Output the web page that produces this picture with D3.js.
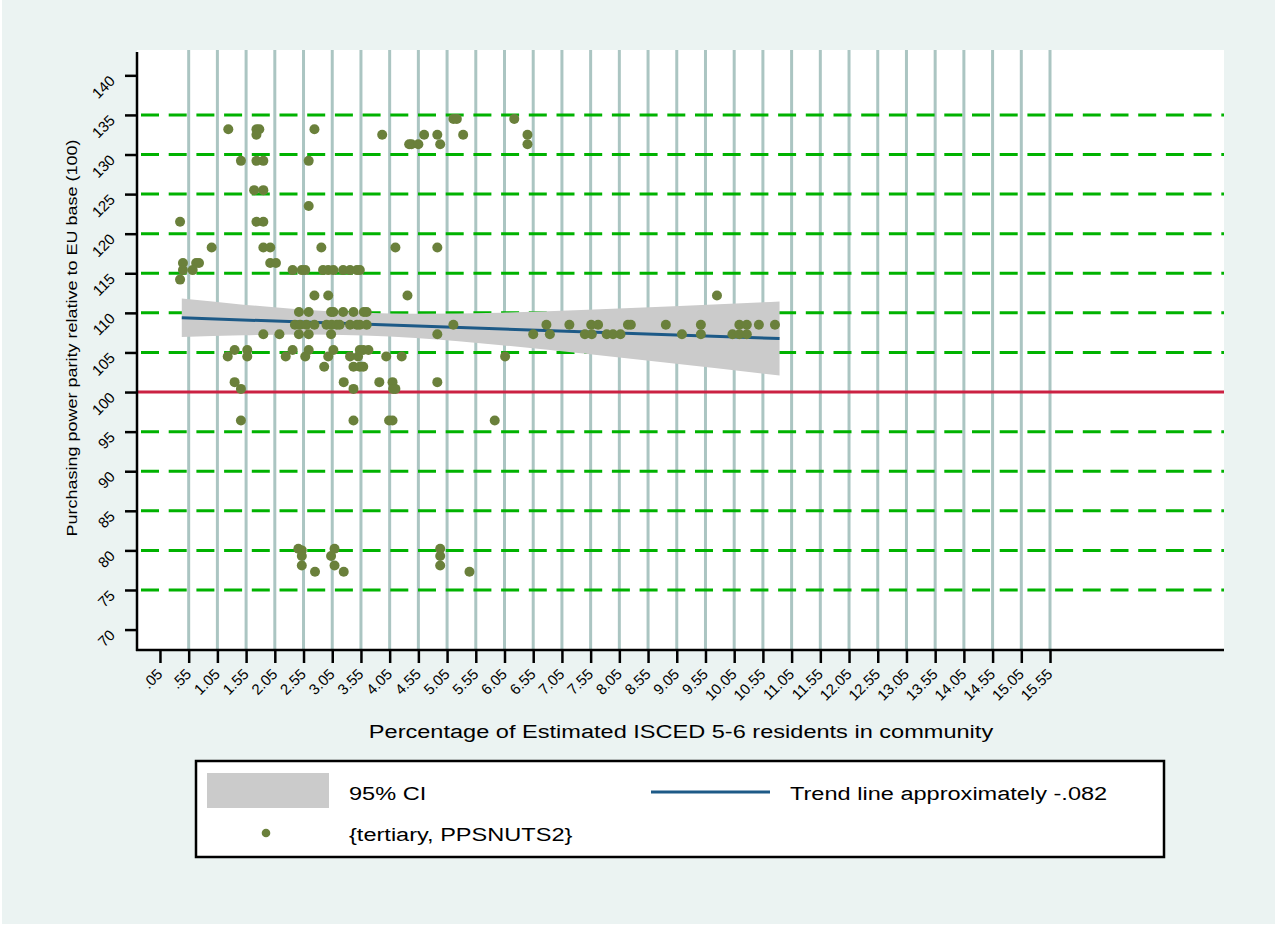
<!DOCTYPE html>
<html>
<head>
<meta charset="utf-8">
<script src="https://cdn.jsdelivr.net/npm/d3@7"></script>
<style>
  body { margin: 0; background: #ffffff; }
  svg { display: block; }
  text { font-family: "Liberation Sans", Arial, Helvetica, sans-serif; fill: #000; }
</style>
</head>
<body>
<svg id="chart" width="1277" height="926"></svg>
<script>
// ---- axis ticks ----
const xTickLabels = [".05", ".55", "1.05", "1.55", "2.05", "2.55", "3.05", "3.55", "4.05", "4.55",
  "5.05", "5.55", "6.05", "6.55", "7.05", "7.55", "8.05", "8.55", "9.05", "9.55", "10.05", "10.55",
  "11.05", "11.55", "12.05", "12.55", "13.05", "13.55", "14.05", "14.55", "15.05", "15.55"];
const yTickValues = [70, 75, 80, 85, 90, 95, 100, 105, 110, 115, 120, 125, 130, 135, 140];
const yGridValues = [75, 80, 85, 90, 95, 105, 110, 115, 120, 125, 130, 135];
const euBase = 100;

// ---- observations: PPS level (y) and the tertiary shares (x) recorded at that level ----
const ppsLevels = [134.5, 133.2, 132.5, 131.3, 129.2, 125.5, 123.5, 121.5, 118.25, 116.3, 115.4,
  114.2, 112.2, 110.1, 108.5, 107.3, 105.3, 104.5, 103.2, 101.25, 100.4, 96.4, 80.2, 80.0, 79.3, 78.1, 77.3];
const tertiaryAtLevel = [
  [5.16, 5.22, 6.22],
  [1.24, 1.73, 1.78, 2.74],
  [1.73, 3.92, 4.65, 4.88, 5.33, 6.45],
  [4.39, 4.43, 4.55, 4.93, 6.45],
  [1.46, 1.73, 1.85, 2.64],
  [1.69, 1.85],
  [2.64],
  [0.40, 1.73, 1.85],
  [0.95, 1.85, 1.97, 2.86, 4.15, 4.88],
  [0.45, 0.68, 0.73, 1.97, 2.07],
  [0.45, 0.62, 2.36, 2.52, 2.58, 2.89, 2.98, 3.07, 3.24, 3.36, 3.48, 3.53],
  [0.40],
  [2.74, 2.98, 4.36, 9.75],
  [2.47, 2.64, 3.03, 3.07, 3.24, 3.42, 3.60, 3.65],
  [2.40, 2.49, 2.60, 2.74, 2.95, 3.04, 3.13, 3.18, 3.36, 3.48, 3.53, 3.65, 5.16, 6.78, 7.18, 7.56,
   7.68, 8.20, 8.25, 8.86, 9.47, 10.14, 10.27, 10.48, 10.76],
  [1.85, 2.13, 2.47, 2.64, 3.03, 4.88, 6.55, 6.84, 7.45, 7.57, 7.83, 7.94, 8.07, 9.14, 9.47, 10.02,
   10.14, 10.27],
  [1.35, 1.57, 2.36, 2.64, 3.07, 3.53, 3.59, 3.68],
  [1.23, 1.57, 2.24, 2.58, 2.98, 3.36, 3.50, 3.99, 4.26, 6.06],
  [2.91, 3.42, 3.53, 3.59],
  [1.35, 3.25, 3.87, 4.10, 4.88],
  [1.46, 3.42, 4.11, 4.15],
  [1.46, 3.42, 4.04, 4.10, 5.88],
  [2.46, 3.09, 4.93],
  [2.52],
  [2.52, 3.03, 4.93],
  [2.52, 3.09, 4.93],
  [2.75, 3.25, 5.44]
];

// ---- linear fit and its 95% confidence band ----
const trendX = [0.43, 10.84];
const trendY = [109.37, 106.75];
const ciX    = [0.43, 1.5, 2.5, 3.6, 4.5, 6.0, 7.5, 9.0, 10.84];
const ciLow  = [106.94, 107.17, 107.27, 107.14, 106.81, 105.91, 104.80, 103.60, 102.08];
const ciHigh = [111.80, 111.04, 110.44, 110.01, 109.89, 110.03, 110.38, 110.82, 111.43];

// ---- legend and titles ----
const legendLabels = ["95% CI", "Trend line approximately -.082", "{tertiary, PPSNUTS2}"];
const axisTitles = {
  x: "Percentage of Estimated ISCED 5-6 residents in community",
  y: "Purchasing power parity relative to EU base (100)"
};

const colors = {
  page: "#ebf3f2", plot: "#ffffff", vgrid: "#abc5c2", hgrid: "#00b200",
  ref: "#cb2142", ci: "#cbcbcb", trend: "#1d5a87", dot: "#6a803b"
};

const plot = { left: 137, right: 1224, top: 50, bottom: 650 };
const wide = 1.24; // horizontal glyph stretch of the horizontal captions

const svg = d3.select("#chart");

svg.append("rect").attr("x", 2).attr("y", 0).attr("width", 1273).attr("height", 924)
  .attr("fill", colors.page);
svg.append("rect").attr("x", plot.left).attr("y", plot.top)
  .attr("width", plot.right - plot.left).attr("height", plot.bottom - plot.top)
  .attr("fill", colors.plot);

const x = d3.scaleLinear().domain([-0.35, 18.58]).range([plot.left, plot.right]);
const y = d3.scaleLinear().domain([67.42, 143.2]).range([plot.bottom, plot.top]);

const xTickValues = xTickLabels.map(s => +s);

// vertical grid lines (none at the first tick)
svg.append("g").selectAll("line").data(xTickValues.slice(1)).join("line")
  .attr("x1", d => x(d)).attr("x2", d => x(d))
  .attr("y1", plot.top).attr("y2", plot.bottom)
  .attr("stroke", colors.vgrid).attr("stroke-width", 3);

// dashed horizontal grid lines
svg.append("g").selectAll("line").data(yGridValues).join("line")
  .attr("x1", plot.left + 4).attr("x2", plot.right)
  .attr("y1", d => y(d)).attr("y2", d => y(d))
  .attr("stroke", colors.hgrid).attr("stroke-width", 3)
  .attr("stroke-dasharray", "18,9.7");

// EU base reference line
svg.append("line")
  .attr("x1", plot.left).attr("x2", plot.right)
  .attr("y1", y(euBase)).attr("y2", y(euBase))
  .attr("stroke", colors.ref).attr("stroke-width", 3);

// confidence band
const band = ciX.map((v, i) => ({ x: v, lo: ciLow[i], hi: ciHigh[i] }));
svg.append("path").datum(band)
  .attr("d", d3.area().x(d => x(d.x)).y0(d => y(d.lo)).y1(d => y(d.hi)).curve(d3.curveMonotoneX))
  .attr("fill", colors.ci);

// fitted line
svg.append("path").datum(trendX.map((v, i) => [v, trendY[i]]))
  .attr("d", d3.line().x(d => x(d[0])).y(d => y(d[1])))
  .attr("fill", "none").attr("stroke", colors.trend).attr("stroke-width", 3);

// scatter points
const points = [];
ppsLevels.forEach((lvl, i) => tertiaryAtLevel[i].forEach(t => points.push({ t, p: lvl })));
svg.append("g").selectAll("circle").data(points).join("circle")
  .attr("cx", d => x(d.t)).attr("cy", d => y(d.p)).attr("r", 5)
  .attr("fill", colors.dot);

// x axis
const xAxis = svg.append("g").attr("transform", `translate(0,${plot.bottom})`)
  .call(d3.axisBottom(x).tickValues(xTickValues).tickFormat((d, i) => xTickLabels[i])
    .tickSize(13).tickSizeOuter(0));
xAxis.select(".domain").remove();
xAxis.append("line").attr("x1", plot.left - 1).attr("x2", plot.right)
  .attr("stroke", "#000").attr("stroke-width", 2.5);
xAxis.selectAll(".tick line").attr("stroke", "#000").attr("stroke-width", 2.5);
xAxis.selectAll(".tick text")
  .attr("x", 0).attr("y", 0).attr("dy", 0)
  .attr("text-anchor", "end")
  .attr("transform", "translate(3,25) rotate(-45)")
  .style("font-size", "15px")
  .style("font-family", "'Liberation Sans', Arial, sans-serif");

// y axis
const yAxis = svg.append("g").attr("transform", `translate(${plot.left},0)`)
  .call(d3.axisLeft(y).tickValues(yTickValues).tickSize(12).tickSizeOuter(0));
yAxis.select(".domain").remove();
yAxis.append("line").attr("y1", plot.top + 2).attr("y2", plot.bottom + 1)
  .attr("stroke", "#000").attr("stroke-width", 2.5);
yAxis.selectAll(".tick line").attr("stroke", "#000").attr("stroke-width", 2.5);
yAxis.selectAll(".tick text")
  .attr("x", 0).attr("y", 0).attr("dy", 0)
  .attr("text-anchor", "end")
  .attr("transform", "translate(-21,6) rotate(-45)")
  .style("font-size", "15px")
  .style("font-family", "'Liberation Sans', Arial, sans-serif");

// horizontal caption helper: text stretched sideways like the rest of the figure
function caption(g, px, py, str, size, anchor) {
  return g.append("text")
    .attr("transform", `translate(${px},${py}) scale(${wide},1)`)
    .attr("text-anchor", anchor || "start")
    .style("font-size", size + "px")
    .text(str);
}

// axis titles
caption(svg, 681, 738, axisTitles.x, 19, "middle");
svg.append("text").attr("transform", "translate(77,338) rotate(-90)").attr("text-anchor", "middle")
  .attr("textLength", 397).attr("lengthAdjust", "spacingAndGlyphs")
  .style("font-size", "14.5px").text(axisTitles.y);

// legend
const lg = svg.append("g");
lg.append("rect").attr("x", 196).attr("y", 761).attr("width", 968).attr("height", 96)
  .attr("fill", "#fff").attr("stroke", "#000").attr("stroke-width", 2.5);
lg.append("rect").attr("x", 207).attr("y", 773).attr("width", 122).attr("height", 35)
  .attr("fill", colors.ci);
lg.append("line").attr("x1", 651).attr("x2", 770).attr("y1", 792).attr("y2", 792)
  .attr("stroke", colors.trend).attr("stroke-width", 3);
lg.append("circle").attr("cx", 266).attr("cy", 833).attr("r", 4.3).attr("fill", colors.dot);
caption(lg, 349, 800, legendLabels[0], 19);
caption(lg, 790, 800, legendLabels[1], 19);
caption(lg, 349, 841, legendLabels[2], 19);
</script>
</body>
</html>
